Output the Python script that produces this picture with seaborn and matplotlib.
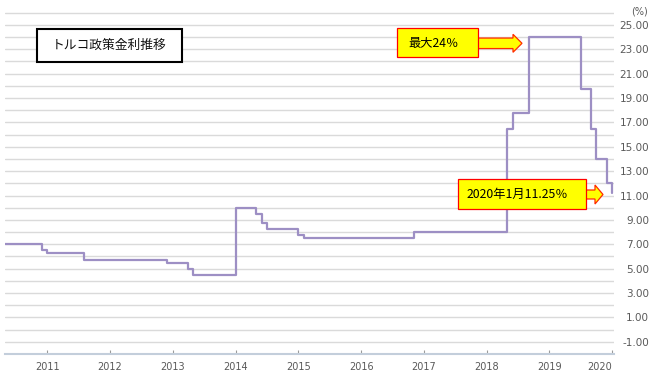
import pandas as pd
import matplotlib
matplotlib.use('Agg')
import matplotlib.pyplot as plt
import matplotlib.dates as mdates
from matplotlib.patches import Rectangle, FancyArrow
from matplotlib.transforms import Affine2D
import seaborn as sns

# policy rate changes (month of change, rate %)
change_months = ['2010-05', '2010-12', '2011-01', '2011-08', '2012-12', '2013-04',
                 '2013-05', '2014-01', '2014-05', '2014-06', '2014-07', '2015-01',
                 '2015-02', '2016-11', '2018-05', '2018-06', '2018-09', '2019-07',
                 '2019-09', '2019-10', '2019-12', '2020-01']
policy_rate = [7.00, 6.50, 6.25, 5.75, 5.50, 5.00,
               4.50, 10.00, 9.50, 8.75, 8.25, 7.75,
               7.50, 8.00, 16.50, 17.75, 24.00, 19.75,
               16.50, 14.00, 12.00, 11.25]
y_ticks = [-1, 1, 3, 5, 7, 9, 11, 13, 15, 17, 19, 21, 23, 25]
y_grid_minor = [0, 2, 4, 6, 8, 10, 12, 14, 16, 18, 20, 22, 24, 26]

title_text = 'トルコ政策金利推移'
peak_text = '最大24％'
latest_text = '2020年1月11.25％'

df = pd.DataFrame({'month': pd.to_datetime(change_months), 'rate': policy_rate})

sns.set_theme(style='white')
plt.rcParams['font.family'] = ['DejaVu Sans', 'Noto Sans CJK JP']

W, H = 669, 379
fig = plt.figure(figsize=(W / 100, H / 100), dpi=100)
ax = fig.add_axes([5 / W, 1 - 354 / H, (613.8 - 5) / W, (354 - 11.5) / H])

sns.lineplot(data=df, x='month', y='rate', drawstyle='steps-post',
             color='#9d8fc4', linewidth=1.6, ax=ax)

ax.set_xlim(pd.Timestamp('2010-05-01'), pd.Timestamp('2020-01-10'))
ax.set_ylim(-2, 26.1)

# y axis: labels on the right, grid every 1
ax.set_yticks(y_ticks)
ax.set_yticklabels([f'{v:.2f}' for v in y_ticks])
ax.set_yticks(y_grid_minor, minor=True)
ax.yaxis.tick_right()
ax.tick_params(axis='y', which='both', length=0, pad=25.3,
               labelsize=7.5, labelcolor='#595959')
for t in ax.yaxis.get_major_ticks():
    t.label2.set_horizontalalignment('right')
ax.grid(axis='y', which='both', color='#dadada', linewidth=1.0)
ax.grid(axis='x', visible=False)

# x axis
ax.xaxis.set_major_locator(mdates.YearLocator())
ax.xaxis.set_major_formatter(mdates.DateFormatter('%Y'))
ax.tick_params(axis='x', direction='in', length=3, width=0.8, color='#9a9a9a',
               pad=6, labelsize=7, labelcolor='#595959', bottom=True)
ax.set_xlabel('')
ax.set_ylabel('')
fig.canvas.draw()
xlabels = ax.get_xticklabels()
if xlabels:
    xlabels[-1].set_horizontalalignment('right')

for s in ['left', 'top', 'right']:
    ax.spines[s].set_visible(False)
ax.spines['bottom'].set_color('#c3cedb')
ax.spines['bottom'].set_linewidth(1.5)

# pixel coordinates (origin top-left) for the decorations
px = Affine2D().scale(1 / W, -1 / H).translate(0, 1) + fig.transFigure

fig.text(640, 12, '(%)', transform=px, ha='center', va='center',
         fontsize=7, color='#595959')

# title box
fig.add_artist(Rectangle((37, 29), 145, 33, transform=px, facecolor='white',
                         edgecolor='black', linewidth=1.5))
fig.text(109.5, 45.5, title_text, transform=px, ha='center', va='center',
         fontsize=9.2, family=['Noto Sans CJK JP'], color='#111111')

# callouts
jp = ['Noto Sans CJK JP']
fig.add_artist(FancyArrow(476, 43.3, 46, 0, width=10.5, head_width=18, head_length=9,
                          length_includes_head=True, transform=px,
                          facecolor='#ffff00', edgecolor='#ff2a00', linewidth=0.9))
fig.add_artist(Rectangle((397, 28), 81, 29, transform=px, facecolor='#ffff00',
                         edgecolor='#ff0000', linewidth=0.9))
fig.text(408, 43, peak_text, transform=px, ha='left', va='center',
         fontsize=8.8, family=jp, color='black')

fig.add_artist(FancyArrow(584, 194.5, 19, 0, width=9, head_width=19, head_length=8,
                          length_includes_head=True, transform=px,
                          facecolor='#ffff00', edgecolor='#ff2a00', linewidth=0.9))
fig.add_artist(Rectangle((458, 179), 128, 30, transform=px, facecolor='#ffff00',
                         edgecolor='#ff0000', linewidth=0.9))
fig.text(467, 194.5, latest_text, transform=px, ha='left', va='center',
         fontsize=8.8, family=jp, color='black')

fig.savefig('out.png', dpi=100)
